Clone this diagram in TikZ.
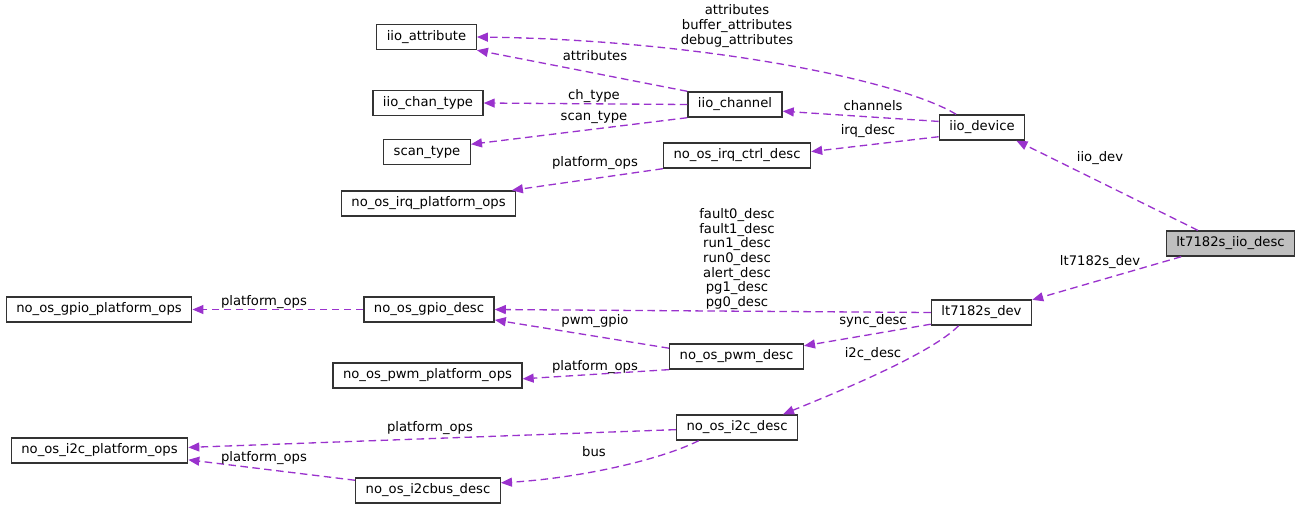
\documentclass[tikz,border=0pt]{standalone}
\usepackage{fontspec}
\setmainfont{DejaVu Sans}
\usepackage{tikz}
\usetikzlibrary{arrows.meta}

\definecolor{usecol}{RGB}{154,50,205}
\definecolor{focusfill}{RGB}{191,191,191}

\begin{document}
\begin{tikzpicture}[
      x=0.02cm, y=-0.02cm,
      font=\fontsize{7.5}{8.3}\selectfont,
      cls/.style={draw=black!80, line width=0.8pt, fill=white, align=center,
        minimum height=0.5cm, inner xsep=0.2cm, inner ysep=0pt},
      focus/.style={cls, fill=focusfill},
      use/.style={draw=usecol, line width=0.75pt, dash pattern=on 0.15cm off 0.09cm,
        -{Triangle[length=0.22cm,width=0.18cm]}},
      lbl/.style={align=center, inner sep=0pt}
    ]
    \useasboundingbox (0,0) rectangle (1301,508);

    \node[cls] (iioattr) at (426.5,37) {iio\_attribute};
    \node[cls] (chantype) at (428,103) {iio\_chan\_type};
    \node[cls] (scantype) at (427,152) {scan\_type};
    \node[cls] (irqplat) at (428.5,203.5) {no\_os\_irq\_platform\_ops};
    \node[cls] (iiochan) at (735,104.5) {iio\_channel};
    \node[cls] (irqctrl) at (737,155.5) {no\_os\_irq\_ctrl\_desc};
    \node[cls] (iiodev) at (982,127.5) {iio\_device};
    \node[focus] (iiodesc) at (1230.5,243.5) {lt7182s\_iio\_desc};
    \node[cls] (ltdev) at (981.5,312.5) {lt7182s\_dev};
    \node[cls] (gpioplat) at (99,309.5) {no\_os\_gpio\_platform\_ops};
    \node[cls] (gpiodesc) at (429,309.5) {no\_os\_gpio\_desc};
    \node[cls] (pwmdesc) at (736.5,356.5) {no\_os\_pwm\_desc};
    \node[cls] (pwmplat) at (427.5,375.5) {no\_os\_pwm\_platform\_ops};
    \node[cls] (i2cdesc) at (737,427.5) {no\_os\_i2c\_desc};
    \node[cls] (i2cplat) at (99.5,450.5) {no\_os\_i2c\_platform\_ops};
    \node[cls] (i2cbus) at (428,490.5) {no\_os\_i2cbus\_desc};

    \draw[use] (iiodev.153) .. controls (900,80) and (700,40) .. (iioattr.east);
    \draw[use] (iiochan.north west) -- (iioattr.south east);
    \draw[use] (iiochan.west) -- (chantype.east);
    \draw[use] (iiochan.south west) -- (scantype.10);
    \draw[use] (iiodev.172) -- (iiochan.-8);
    \draw[use] (iiodev.192) -- (irqctrl.3);
    \draw[use] (irqctrl.south west) -- (irqplat.9);
    \draw[use] (iiodesc.158) -- (iiodev.-21);
    \draw[use] (iiodesc.195) -- (ltdev.14);
    \draw[use] (ltdev.west) -- (gpiodesc.east);
    \draw[use] (ltdev.193) -- (pwmdesc.9);
    \draw[use] (ltdev.210) .. controls (930,355) and (830,395) .. (i2cdesc.16);
    \draw[use] (gpiodesc.west) -- (gpioplat.east);
    \draw[use] (pwmdesc.173) -- (gpiodesc.-9);
    \draw[use] (pwmdesc.191) -- (pwmplat.-2);
    \draw[use] (i2cdesc.182) -- (i2cplat.2);
    \draw[use] (i2cdesc.199) .. controls (660,460) and (580,478) .. (i2cbus.6);
    \draw[use] (i2cbus.172) -- (i2cplat.-6);

    \node[lbl] (l1) at (737,26) {attributes\\buffer\_attributes\\debug\_attributes};
    \node[lbl] (l2) at (595,56) {attributes};
    \node[lbl] (l3) at (594,96) {ch\_type};
    \node[lbl] (l4) at (594,117) {scan\_type};
    \node[lbl] (l5) at (873,106) {channels};
    \node[lbl] (l6) at (868,131) {irq\_desc};
    \node[lbl] (l7) at (595,163) {platform\_ops};
    \node[lbl] (l8) at (1100,158) {iio\_dev};
    \node[lbl] (l9) at (1100,262) {lt7182s\_dev};
    \node[lbl] (l10) at (737,259)
      {fault0\_desc\\fault1\_desc\\run1\_desc\\run0\_desc\\alert\_desc\\pg1\_desc\\pg0\_desc};
    \node[lbl] (l11) at (873,321) {sync\_desc};
    \node[lbl] (l12) at (873,354) {i2c\_desc};
    \node[lbl] (l13) at (264,302) {platform\_ops};
    \node[lbl] (l14) at (595,321) {pwm\_gpio};
    \node[lbl] (l15) at (595,367) {platform\_ops};
    \node[lbl] (l16) at (430,428) {platform\_ops};
    \node[lbl] (l17) at (594,452) {bus};
    \node[lbl] (l18) at (264,458) {platform\_ops};
  \end{tikzpicture}
\end{document}
